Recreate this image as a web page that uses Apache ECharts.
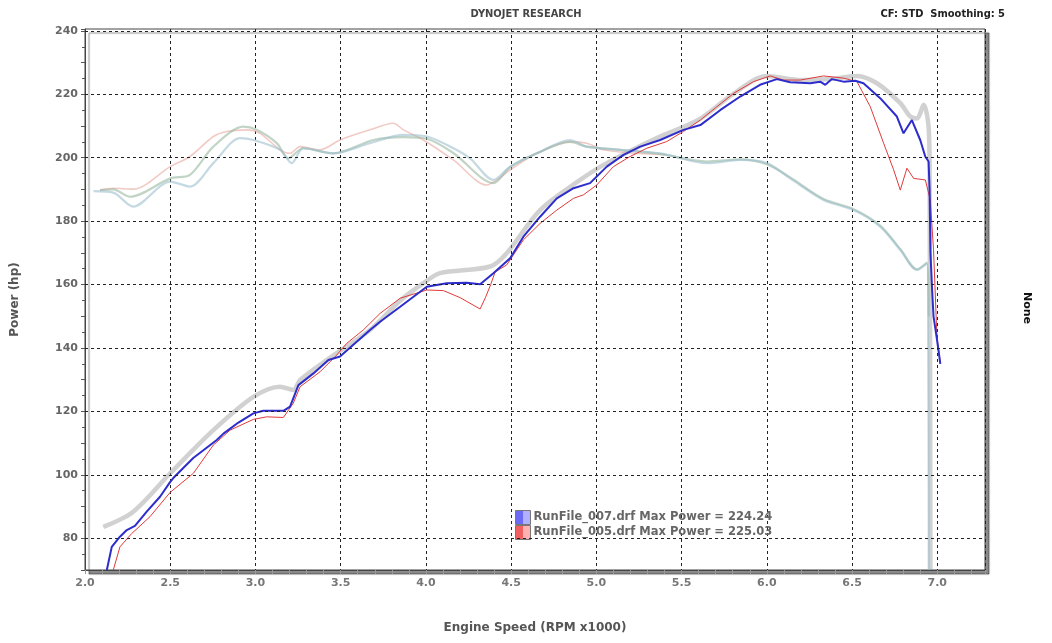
<!DOCTYPE html>
<html><head><meta charset="utf-8">
<script src="https://cdn.jsdelivr.net/npm/echarts@6/dist/echarts.min.js"></script>
<style>html,body{margin:0;padding:0;background:#fff}#c{width:1052px;height:643px}</style>
</head><body><div id="c"></div>
<script>
// RunFile_007 (blue) power curve [rpm x1000, hp]
const run007 = [[2.128,70],[2.157,77.3],[2.205,80.5],[2.245,82.6],[2.293,83.9],[2.362,88.4],[2.44,93.1],[2.5,97.8],[2.518,99],[2.635,105.3],[2.773,111],[2.812,113],[2.9,116.5],[2.988,119.4],[3.046,120.2],[3.164,120.2],[3.203,121.5],[3.252,128.3],[3.34,132],[3.428,136.2],[3.496,137.3],[3.672,145.7],[3.731,148.3],[3.849,153],[4.005,159.3],[4.122,160.4],[4.24,160.6],[4.318,160.1],[4.396,163.6],[4.494,168.3],[4.572,175.1],[4.67,181.4],[4.768,187.2],[4.866,190.4],[4.963,192],[5.061,197.2],[5.159,200.9],[5.257,203.5],[5.374,205.6],[5.511,208.8],[5.61,210.3],[5.726,215],[5.844,219.3],[5.96,223],[6.059,224.8],[6.137,223.8],[6.255,223.5],[6.313,224],[6.343,223],[6.382,224.8],[6.45,224],[6.519,224.3],[6.567,223.5],[6.665,218.8],[6.763,213],[6.802,207.7],[6.851,211.9],[6.9,205.6],[6.93,200.3],[6.949,198.8],[6.955,190],[6.96,170],[6.97,158],[6.978,150],[7.0,142],[7.018,135]];
// RunFile_005 (red) power curve
const run005 = [[2.166,70],[2.205,77.3],[2.274,81.5],[2.381,86.8],[2.5,94.5],[2.636,100.5],[2.753,109.4],[2.851,114.1],[2.988,117.5],[3.066,118.3],[3.164,118.1],[3.222,122.6],[3.262,127.8],[3.379,132.5],[3.477,137.8],[3.536,141.5],[3.633,145.7],[3.731,150.9],[3.849,155.7],[4.005,158.3],[4.103,158.1],[4.2,155.9],[4.318,152.3],[4.35,156],[4.38,160],[4.406,164],[4.474,166.2],[4.572,174.1],[4.67,179.3],[4.768,183.5],[4.866,187.2],[4.924,188.3],[5.002,191.4],[5.1,197.2],[5.198,200.4],[5.296,203],[5.413,205.1],[5.511,208.3],[5.61,211.9],[5.805,220.3],[5.922,224],[6.02,225.8],[6.098,224.5],[6.196,224.5],[6.333,225.8],[6.45,225.1],[6.529,224],[6.607,216.1],[6.685,204.6],[6.744,196.2],[6.783,189.8],[6.822,196.7],[6.861,193.5],[6.93,193],[6.959,186.7],[6.978,171],[6.998,143.6],[7.018,135.2]];
// faded background (ghost) traces
const ghostPower = [[2.107,83.6],[2.283,88.4],[2.5,100.5],[2.753,114.1],[2.988,124.6],[3.144,127.8],[3.222,126.8],[3.262,129.9],[3.418,136.2],[3.672,145.7],[3.85,155],[4.0,161],[4.083,163.6],[4.377,165.7],[4.474,169.9],[4.67,183.5],[4.905,193],[5.061,198.3],[5.354,206.2],[5.6,212],[5.8,220],[6.0,225.8],[6.2,224.5],[6.4,225],[6.529,225.8],[6.646,223.5],[6.783,217.2],[6.842,213],[6.881,212.4],[6.92,216.7],[6.949,209.8],[6.955,195],[6.96,70]];
const ghostPink = [[2.088,189.8],[2.166,190.4],[2.283,190.1],[2.5,197.2],[2.616,200.4],[2.753,206.7],[2.832,208.3],[2.949,208.8],[3.027,207.7],[3.144,202.5],[3.203,201.4],[3.262,203.5],[3.379,202.5],[3.496,205.6],[3.672,208.8],[3.809,210.9],[3.868,208.8],[3.985,205.6],[4.161,199.3],[4.357,191.4],[4.416,193],[4.494,196.2],[4.651,201.4],[4.846,205.1],[4.944,204.6],[5.041,202.5],[5.2,201.5],[5.4,201]];
const ghostGreen = [[2.088,189.8],[2.166,190],[2.264,187.7],[2.5,193.5],[2.616,194.6],[2.753,203.5],[2.929,209.8],[3.007,208.8],[3.125,204.6],[3.193,199.8],[3.281,203],[3.457,201.4],[3.692,205.6],[3.868,206.5],[4.005,206],[4.161,201.5],[4.396,192],[4.494,197],[4.651,201.4],[4.846,205],[4.944,203.5],[5.139,202.5],[5.374,201.2],[5.648,198.8],[5.844,199.5],[6.0,198],[6.137,193.8],[6.333,187],[6.509,183.8],[6.665,178.6],[6.783,171.2],[6.881,164.8],[6.939,166.9],[6.95,150]];
const ghostBlue = [[2.05,189.5],[2.166,189],[2.283,184.6],[2.5,192.5],[2.616,190.9],[2.753,198.3],[2.91,206.2],[2.988,205.6],[3.144,202.5],[3.213,198.3],[3.281,203],[3.457,201.4],[3.672,204.6],[3.868,207.2],[4.005,206.7],[4.161,203],[4.259,199.8],[4.396,193],[4.494,197.2],[4.651,201.4],[4.846,205.6],[4.944,203.5],[5.139,202.5],[5.374,201.4],[5.648,198.3],[5.844,199.3],[6.0,198.3],[6.137,193.5],[6.333,186.7],[6.509,183.5],[6.665,178.3],[6.783,170.9],[6.881,164.6],[6.939,166.7],[6.95,70]];
// horizontal grid levels (hp)
const yGridLevels = [80,100,120,140,160,180,200,220,240];
const legendNames = ['RunFile_007.drf Max Power = 224.24','RunFile_005.drf Max Power = 225.03'];

const FONT = 'DejaVu Sans';
const chart = echarts.init(document.getElementById('c'));
const grad = (a,b) => new echarts.graphic.LinearGradient(0,0,1,0,[{offset:0,color:a},{offset:0.5,color:a},{offset:0.5,color:b},{offset:1,color:b}]);
const ghost = (name,data,color,w,op) => ({name,type:'line',data,showSymbol:false,silent:true,smooth:0.3,
  lineStyle:{color,width:w,opacity:op},z:2});
chart.setOption({
  animation:false,
  backgroundColor:'#fff',
  title:[
    {text:'DYNOJET RESEARCH',left:'center',top:4,textStyle:{fontFamily:'DejaVu Sans Condensed, '+FONT,fontSize:11,fontWeight:'bold',color:'#444'}},
    {text:'CF: STD  Smoothing: 5',right:42,top:4,textStyle:{fontFamily:'DejaVu Sans Condensed, '+FONT,fontSize:11,fontWeight:'bold',color:'#222'}}
  ],
  graphic:[{type:'text',left:1021,top:292,rotation:-Math.PI/2,style:{text:'None',font:'bold 11px '+FONT,fill:'#111'}}],
  grid:{left:85,right:67,top:29,bottom:73,show:true,backgroundColor:'#fff',borderColor:'#444',borderWidth:1,
    shadowColor:'rgba(0,0,0,0.45)',shadowOffsetX:4,shadowOffsetY:4,shadowBlur:1},
  legend:{orient:'vertical',left:510,top:505,itemGap:0,itemWidth:15,itemHeight:14,icon:'rect',
    textStyle:{fontFamily:FONT,fontSize:11.5,fontWeight:'bold',color:'#666',padding:[0,0,0,-2],lineHeight:15},
    data:[{name:legendNames[0],itemStyle:{color:grad('#6a6af5','#b0b0ff'),borderColor:'#777',borderWidth:1}},
          {name:legendNames[1],itemStyle:{color:grad('#f06060','#ffb0b0'),borderColor:'#777',borderWidth:1}}]},
  xAxis:{type:'value',min:2.0,max:7.28,interval:0.5,
    name:'Engine Speed (RPM x1000)',nameLocation:'middle',nameGap:52,
    nameTextStyle:{fontFamily:FONT,fontSize:12,fontWeight:'bold',color:'#555'},
    axisLine:{show:true,lineStyle:{color:'#444'}},
    axisTick:{show:true,length:4,lineStyle:{color:'#999'}},
    minorTick:{show:true,splitNumber:5,length:4,lineStyle:{color:'#999'}},
    axisLabel:{fontFamily:FONT,fontSize:11,fontWeight:'bold',color:'#777',margin:8,
      formatter:v=>Math.abs(v*2-Math.round(v*2))<1e-6?v.toFixed(1):''},
    splitLine:{show:true,lineStyle:{color:'#222',type:[3,3],width:1}}},
  yAxis:{type:'value',min:70,max:240.6,interval:10,
    name:'Power (hp)',nameLocation:'middle',nameGap:64,
    nameTextStyle:{fontFamily:FONT,fontSize:12,fontWeight:'bold',color:'#555'},
    axisLine:{show:true,lineStyle:{color:'#444'}},
    axisTick:{show:true,length:4,lineStyle:{color:'#555'}},
    minorTick:{show:true,splitNumber:2,length:3,lineStyle:{color:'#555'}},
    axisLabel:{fontFamily:FONT,fontSize:11,fontWeight:'bold',color:'#666',margin:7,
      formatter:v=>(Math.abs(v%20)<1e-6)?String(Math.round(v)):''},
    splitLine:{show:false}},
  series:[
    {name:'grid',type:'line',data:[],silent:true,z:1,
      markLine:{silent:true,symbol:'none',label:{show:false},animation:false,
        lineStyle:{color:'#222',type:[3,3],width:1},
        data:yGridLevels.map(v=>({yAxis:v}))}},
    ghost('ghostPower',ghostPower,'#9a9a9a',4.5,0.45),
    ghost('ghostPink',ghostPink,'#e7a79e',1.6,0.6),
    ghost('ghostGreen',ghostGreen,'#98b8a0',2.2,0.6),
    ghost('ghostBlue',ghostBlue,'#9fbfcf',2.2,0.6),
    {name:legendNames[1],type:'line',data:run005,showSymbol:false,z:3,lineStyle:{color:'#e03a3a',width:1},itemStyle:{color:'#e03a3a'}},
    {name:legendNames[0],type:'line',data:run007,showSymbol:false,z:4,lineStyle:{color:'#2d2dcc',width:2},itemStyle:{color:'#2d2dcc'}}
  ]
});
</script></body></html>
